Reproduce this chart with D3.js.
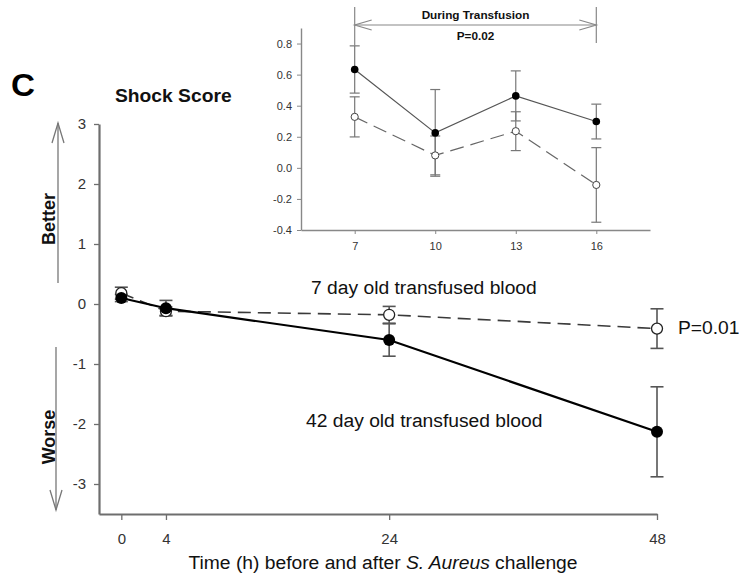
<!DOCTYPE html>
<html>
<head>
<meta charset="utf-8">
<script src="https://cdn.jsdelivr.net/npm/d3@7"></script>
<style>
  html, body { margin: 0; padding: 0; background: #fff; }
  svg { display: block; font-family: "Liberation Sans", Arial, sans-serif; }
</style>
</head>
<body>
<svg id="chart" width="739" height="575"></svg>
<script>
// Main panel: shock score over time (hours around S. aureus challenge)
const hours = [0, 4, 24, 48];
const day7Mean = [0.18, -0.12, -0.18, -0.41];
const day7Err = [0.1, 0.07, 0.14, 0.33];
const day42Mean = [0.1, -0.07, -0.6, -2.13];
const day42Err = [0.06, 0.13, 0.27, 0.75];
const mainXTicks = [0, 4, 24, 48];
const mainYTicks = [-3, -2, -1, 0, 1, 2, 3];

// Inset: shock score during transfusion (hours)
const insetHours = [7, 10, 13, 16];
const insetDay42Mean = [0.633, 0.225, 0.463, 0.298];
const insetDay42Err = [0.152, 0.279, 0.161, 0.112];
const insetDay7Mean = [0.328, 0.08, 0.236, -0.11];
const insetDay7Err = [0.129, 0.125, 0.125, 0.24];
const insetXTicks = [7, 10, 13, 16];
const insetYTicks = [-0.4, -0.2, 0.0, 0.2, 0.4, 0.6, 0.8];

const svg = d3.select("#chart");
const SX = 1.07; // horizontal text widening used throughout the figure
const hyphen = s => s.replace("\u2212", "-");

// text helper: horizontally widened text anchored at (x, y)
function label(x, y, txt, size, opts = {}) {
  const t = svg.append("text")
    .attr("transform", `translate(${x},${y}) scale(${opts.sx || SX},1)`)
    .attr("font-size", size)
    .attr("font-weight", opts.bold ? "bold" : null)
    .attr("text-anchor", opts.anchor || "start")
    .attr("fill", opts.fill || "#111");
  if (txt !== null) t.text(txt);
  return t;
}

// ---------- main panel ----------
const x = d3.scaleLinear().domain([-2, 48]).range([99, 657]);
const y = d3.scaleLinear().domain([-3.5, 3]).range([514, 124]);

const axisColor = "#6e6e6e";
const labelColor = "#333";

const gx = svg.append("g").attr("transform", `translate(0,${y(-3.5)})`)
  .call(d3.axisBottom(x).tickValues(mainXTicks).tickSize(6).tickPadding(13).tickSizeOuter(0));
const gy = svg.append("g").attr("transform", `translate(${x(-2)},0)`)
  .call(d3.axisLeft(y).tickValues(mainYTicks).tickSize(5).tickPadding(8).tickSizeOuter(0)
    .tickFormat(d => hyphen(d3.format("d")(d))));
[gx, gy].forEach(g => {
  g.select(".domain").attr("stroke", axisColor).attr("stroke-width", 2.2);
  g.selectAll(".tick line").attr("stroke", axisColor).attr("stroke-width", 1.3);
  g.selectAll(".tick text").attr("fill", labelColor).style("font-size", "15px")
    .style("font-family", "'Liberation Sans', Arial, sans-serif");
});

function errorBars(g, xs, ms, es, xs_, ys_, cap, color, width) {
  xs.forEach((h, i) => {
    const cx = xs_(h), top = ys_(ms[i] + es[i]), bot = ys_(ms[i] - es[i]);
    g.append("line").attr("x1", cx).attr("x2", cx).attr("y1", top).attr("y2", bot)
      .attr("stroke", color).attr("stroke-width", width);
    [top, bot].forEach(yy => g.append("line")
      .attr("x1", cx - cap).attr("x2", cx + cap).attr("y1", yy).attr("y2", yy)
      .attr("stroke", color).attr("stroke-width", width));
  });
}

const main = svg.append("g");
errorBars(main, hours, day7Mean, day7Err, x, y, 6.5, "#555", 1.6);
errorBars(main, hours, day42Mean, day42Err, x, y, 6.5, "#555", 1.6);

const mainLine = (ms) => d3.line().x((d, i) => x(hours[i])).y(d => y(d))(ms);
main.append("path").attr("d", mainLine(day7Mean)).attr("fill", "none")
  .attr("stroke", "#3a3a3a").attr("stroke-width", 1.6).attr("stroke-dasharray", "13,7");
main.append("path").attr("d", mainLine(day42Mean)).attr("fill", "none")
  .attr("stroke", "#000").attr("stroke-width", 2.2);

main.selectAll(".o7").data(day7Mean).enter().append("circle")
  .attr("cx", (d, i) => x(hours[i])).attr("cy", d => y(d)).attr("r", 5.5)
  .attr("fill", "#fff").attr("stroke", "#222").attr("stroke-width", 1.3);
main.selectAll(".f42").data(day42Mean).enter().append("circle")
  .attr("cx", (d, i) => x(hours[i])).attr("cy", d => y(d)).attr("r", 6)
  .attr("fill", "#000");

// Series labels
label(311, 294, "7 day old transfused blood", 18);
label(306, 427, "42 day old transfused blood", 18);
label(678, 334, "P=0.01", 18);

// Axis title
const xt = label(383, 569, null, 18, { anchor: "middle" });
xt.append("tspan").text("Time (h) before and after ");
xt.append("tspan").attr("font-style", "italic").text("S. Aureus");
xt.append("tspan").text(" challenge");

// Panel letter and title
label(11, 96, "C", 31, { bold: true, fill: "#000" });
label(115, 102, "Shock Score", 18, { bold: true });

// Better / Worse labels with arrows
svg.append("text").attr("transform", "translate(55,219) rotate(-90)").attr("text-anchor", "middle")
  .attr("font-size", 18).attr("font-weight", "bold").attr("fill", "#111").text("Better");
svg.append("text").attr("transform", "translate(55,437) rotate(-90)").attr("text-anchor", "middle")
  .attr("font-size", 18).attr("font-weight", "bold").attr("fill", "#111").text("Worse");

const arrowColor = "#777";
function vArrow(xx, y0, y1) {
  const dir = y1 < y0 ? 1 : -1;
  svg.append("line").attr("x1", xx).attr("x2", xx).attr("y1", y0).attr("y2", y1)
    .attr("stroke", arrowColor).attr("stroke-width", 1.3);
  svg.append("path").attr("d", `M${xx - 6},${y1 + dir * 20}L${xx},${y1}L${xx + 6},${y1 + dir * 20}`)
    .attr("fill", "none").attr("stroke", arrowColor).attr("stroke-width", 1.3);
}
vArrow(58, 283, 123);
vArrow(56, 347, 510);

// ---------- inset ----------
const ix = d3.scaleLinear().domain([5, 18]).range([301, 650]);
const iy = d3.scaleLinear().domain([-0.4, 0.9]).range([230, 28]);

const igx = svg.append("g").attr("transform", `translate(0,${iy(-0.4)})`)
  .call(d3.axisBottom(ix).tickValues(insetXTicks).tickSize(4).tickPadding(8).tickSizeOuter(0));
const igy = svg.append("g").attr("transform", `translate(${ix(5)},0)`)
  .call(d3.axisLeft(iy).tickValues(insetYTicks).tickSize(4).tickPadding(5).tickSizeOuter(0)
    .tickFormat(d => hyphen(d3.format(".1f")(d))));
[igx, igy].forEach(g => {
  g.select(".domain").attr("stroke", "#888").attr("stroke-width", 1.4);
  g.selectAll(".tick line").attr("stroke", "#888").attr("stroke-width", 1);
  g.selectAll(".tick text").attr("fill", labelColor).style("font-size", "11px")
    .style("font-family", "'Liberation Sans', Arial, sans-serif");
});

const inset = svg.append("g");
errorBars(inset, insetHours, insetDay42Mean, insetDay42Err, ix, iy, 5, "#777", 1.2);
errorBars(inset, insetHours, insetDay7Mean, insetDay7Err, ix, iy, 5, "#777", 1.2);

const insetLine = (ms) => d3.line().x((d, i) => ix(insetHours[i])).y(d => iy(d))(ms);
inset.append("path").attr("d", insetLine(insetDay7Mean)).attr("fill", "none")
  .attr("stroke", "#666").attr("stroke-width", 1.2).attr("stroke-dasharray", "14,7");
inset.append("path").attr("d", insetLine(insetDay42Mean)).attr("fill", "none")
  .attr("stroke", "#555").attr("stroke-width", 1.2);

inset.selectAll(".io").data(insetDay7Mean).enter().append("circle")
  .attr("cx", (d, i) => ix(insetHours[i])).attr("cy", d => iy(d)).attr("r", 3.6)
  .attr("fill", "#fff").attr("stroke", "#444").attr("stroke-width", 1);
inset.selectAll(".if").data(insetDay42Mean).enter().append("circle")
  .attr("cx", (d, i) => ix(insetHours[i])).attr("cy", d => iy(d)).attr("r", 3.8)
  .attr("fill", "#000");

// Transfusion bracket
const bx0 = ix(insetHours[0]), bx1 = ix(insetHours[insetHours.length - 1]);
const bc = "#888";
svg.append("line").attr("x1", bx0).attr("x2", bx0).attr("y1", 7).attr("y2", 46)
  .attr("stroke", bc).attr("stroke-width", 1.2);
svg.append("line").attr("x1", bx1).attr("x2", bx1).attr("y1", 7).attr("y2", 43)
  .attr("stroke", bc).attr("stroke-width", 1.2);
svg.append("line").attr("x1", bx0).attr("x2", bx1).attr("y1", 25).attr("y2", 25)
  .attr("stroke", bc).attr("stroke-width", 1.2);
svg.append("path").attr("d", `M${bx0 + 17},${20}L${bx0},25L${bx0 + 17},${30}`)
  .attr("fill", "none").attr("stroke", bc).attr("stroke-width", 1.2);
svg.append("path").attr("d", `M${bx1 - 17},${20}L${bx1},25L${bx1 - 17},${30}`)
  .attr("fill", "none").attr("stroke", bc).attr("stroke-width", 1.2);
label((bx0 + bx1) / 2, 19, "During Transfusion", 11, { bold: true, anchor: "middle" });
label((bx0 + bx1) / 2, 40, "P=0.02", 11, { bold: true, anchor: "middle" });
</script>
</body>
</html>
